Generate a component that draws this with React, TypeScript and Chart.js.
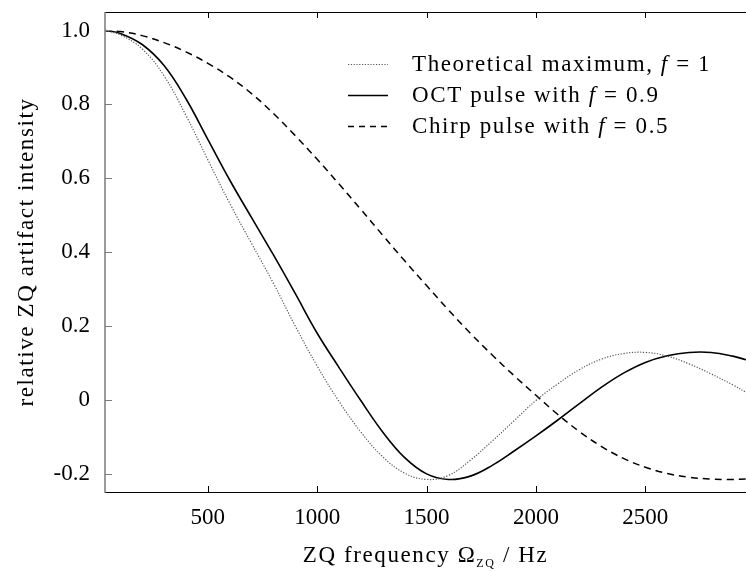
import React, { useEffect, useRef } from "react";
import { Chart, registerables } from "chart.js";

Chart.register(...registerables);

const FREQ = [30, 100, 200, 300, 400, 500, 600, 700, 800, 900, 1000, 1100, 1200, 1300, 1400, 1500, 1600, 1700, 1800, 1900, 2000, 2100, 2200, 2300, 2400, 2500, 2600, 2700, 2800, 2900, 2960];
const THEORETICAL = [1.0, 0.988, 0.95, 0.877, 0.77, 0.65, 0.532, 0.423, 0.315, 0.199, 0.091, -0.005, -0.088, -0.155, -0.199, -0.216, -0.205, -0.164, -0.112, -0.057, -0.002, 0.043, 0.082, 0.11, 0.125, 0.128, 0.118, 0.097, 0.07, 0.04, 0.02];
const OCT = [1.0, 0.992, 0.962, 0.905, 0.815, 0.705, 0.595, 0.493, 0.392, 0.287, 0.18, 0.087, -0.003, -0.088, -0.157, -0.201, -0.216, -0.207, -0.178, -0.139, -0.098, -0.055, -0.01, 0.034, 0.072, 0.101, 0.119, 0.128, 0.128, 0.118, 0.108];
const CHIRP = [1.0, 0.997, 0.986, 0.967, 0.942, 0.911, 0.874, 0.829, 0.775, 0.715, 0.651, 0.584, 0.515, 0.445, 0.376, 0.309, 0.243, 0.18, 0.121, 0.065, 0.012, -0.04, -0.087, -0.127, -0.159, -0.183, -0.2, -0.21, -0.215, -0.216, -0.215];

const X_TICKS = [500, 1000, 1500, 2000, 2500];
const Y_TICKS = [-0.2, 0, 0.2, 0.4, 0.6, 0.8, 1.0];
const Y_TICK_LABELS = ["-0.2", "0", "0.2", "0.4", "0.6", "0.8", "1.0"];

const LEGEND = [
  { pre: "Theoretical maximum, ", post: " = 1" },
  { pre: "OCT pulse with ", post: " = 0.9" },
  { pre: "Chirp pulse with ", post: " = 0.5" },
];

const FONT_FAMILY = "'Liberation Serif', 'DejaVu Serif', serif";
const TICK_SIZE = 23;
const TEXT_SIZE = 23;
const SPACING = "1.6px";

const decorPlugin = {
  id: "decor",
  afterDraw(chart: any) {
    const ctx = chart.ctx;
    const { left, right, top, bottom } = chart.chartArea;
    const xs = chart.scales.x;
    const ys = chart.scales.y;
    ctx.save();
    ctx.strokeStyle = "#000";
    ctx.lineWidth = 1.2;
    ctx.beginPath();
    ctx.moveTo(left, top + 0.5);
    ctx.lineTo(right, top + 0.5);
    ctx.moveTo(left, bottom + 0.5);
    ctx.lineTo(right, bottom + 0.5);
    ctx.stroke();
    ctx.lineWidth = 1;
    ctx.beginPath();
    X_TICKS.forEach((v) => {
      const px = Math.round(xs.getPixelForValue(v)) + 0.5;
      ctx.moveTo(px, bottom);
      ctx.lineTo(px, bottom - 6);
      ctx.moveTo(px, top);
      ctx.lineTo(px, top + 6);
    });
    ctx.stroke();
    ctx.strokeStyle = "#7a7a7a";
    ctx.lineWidth = 1.5;
    ctx.beginPath();
    ctx.moveTo(left, top);
    ctx.lineTo(left, bottom + 1);
    ctx.stroke();
    ctx.lineWidth = 1.2;
    ctx.beginPath();
    Y_TICKS.forEach((v) => {
      const py = Math.round(ys.getPixelForValue(v)) + 0.5;
      ctx.moveTo(left, py);
      ctx.lineTo(left + 7, py);
    });
    ctx.stroke();

    const setFont = (f: string) => {
      ctx.font = f;
      try { (ctx as any).letterSpacing = SPACING; } catch (e) {}
    };

    // legend
    const ds = chart.data.datasets;
    const lx0 = 348, lx1 = 388, tx = 412;
    const ly = [64, 95, 126];
    ctx.textBaseline = "middle";
    ctx.textAlign = "left";
    LEGEND.forEach((item, i) => {
      const d = ds[i];
      const y = ly[i];
      ctx.save();
      ctx.strokeStyle = d.borderColor;
      ctx.lineWidth = d.borderWidth;
      ctx.setLineDash(d.legendDash || d.borderDash || []);
      ctx.beginPath();
      ctx.moveTo(lx0, y + 0.5);
      ctx.lineTo(lx1, y + 0.5);
      ctx.stroke();
      ctx.restore();
      ctx.fillStyle = "#000";
      let x = tx;
      setFont(`${TEXT_SIZE}px ${FONT_FAMILY}`);
      ctx.fillText(item.pre, x, y + 1);
      x += ctx.measureText(item.pre).width;
      setFont(`italic ${TEXT_SIZE}px ${FONT_FAMILY}`);
      ctx.fillText("f", x, y + 1);
      x += ctx.measureText("f").width;
      setFont(`${TEXT_SIZE}px ${FONT_FAMILY}`);
      ctx.fillText(item.post, x, y + 1);
    });

    // x title
    ctx.textBaseline = "alphabetic";
    const p1 = "ZQ frequency Ω";
    const sub = "ZQ";
    const p2 = " / Hz";
    setFont(`${TEXT_SIZE}px ${FONT_FAMILY}`);
    const w1 = ctx.measureText(p1).width;
    const w3 = ctx.measureText(p2).width;
    setFont(`12px ${FONT_FAMILY}`);
    const w2 = ctx.measureText(sub).width;
    const total = w1 + w2 + w3;
    let sx = (left + right) / 2 - total / 2;
    const base = 562;
    setFont(`${TEXT_SIZE}px ${FONT_FAMILY}`);
    ctx.fillText(p1, sx, base);
    sx += w1;
    setFont(`12px ${FONT_FAMILY}`);
    ctx.fillText(sub, sx, base + 5);
    sx += w2;
    setFont(`${TEXT_SIZE}px ${FONT_FAMILY}`);
    ctx.fillText(p2, sx, base);

    // y title
    ctx.save();
    ctx.translate(33, (top + bottom) / 2);
    ctx.rotate(-Math.PI / 2);
    ctx.textAlign = "left";
    ctx.textBaseline = "alphabetic";
    setFont(`${TEXT_SIZE}px ${FONT_FAMILY}`);
    const yt = "relative ZQ artifact intensity";
    const yw = ctx.measureText(yt).width;
    ctx.fillText(yt, -yw / 2, 0);
    ctx.restore();

    ctx.restore();
  },
};

export default function App() {
  const ref = useRef<HTMLCanvasElement | null>(null);
  useEffect(() => {
    if (!ref.current) return;
    const mk = (arr: number[]) => FREQ.map((x, i) => ({ x, y: arr[i] }));
    const chart = new Chart(ref.current, {
      type: "line",
      data: {
        datasets: [
          {
            label: "Theoretical maximum, f = 1",
            data: mk(THEORETICAL),
            borderColor: "#555",
            borderWidth: 1.2,
            borderDash: [1.2, 1.6],
            pointRadius: 0,
            tension: 0.4,
            fill: false,
          },
          {
            label: "OCT pulse with f = 0.9",
            data: mk(OCT),
            borderColor: "#000",
            borderWidth: 1.6,
            pointRadius: 0,
            tension: 0.4,
            fill: false,
          },
          {
            label: "Chirp pulse with f = 0.5",
            data: mk(CHIRP),
            borderColor: "#000",
            borderWidth: 1.5,
            borderDash: [7, 5],
            legendDash: [6, 5],
            pointRadius: 0,
            tension: 0.4,
            fill: false,
          } as any,
        ],
      },
      options: {
        animation: false,
        responsive: true,
        maintainAspectRatio: false,
        layout: { padding: { top: 12, right: 0, left: 0, bottom: 0 } },
        plugins: { legend: { display: false }, tooltip: { enabled: false } },
        scales: {
          x: {
            type: "linear",
            min: 30,
            max: 2960,
            grid: { display: false, drawTicks: false },
            border: { display: false },
            afterBuildTicks: (s: any) => {
              s.ticks = X_TICKS.map((v) => ({ value: v }));
            },
            afterFit: (s: any) => {
              s.height = 80;
              s.paddingLeft = 0;
              s.paddingRight = 0;
            },
            ticks: {
              color: "#000",
              padding: 12,
              maxRotation: 0,
              font: { family: FONT_FAMILY, size: TICK_SIZE },
              callback: (v: any) => String(v),
            },
          },
          y: {
            type: "linear",
            min: -0.25,
            max: 1.05,
            grid: { display: false, drawTicks: false },
            border: { display: false },
            afterBuildTicks: (s: any) => {
              s.ticks = Y_TICKS.map((v) => ({ value: v }));
            },
            afterFit: (s: any) => {
              s.width = 105;
              s.paddingTop = 0;
              s.paddingBottom = 0;
            },
            ticks: {
              color: "#000",
              padding: 15,
              font: { family: FONT_FAMILY, size: TICK_SIZE },
              callback: (v: any) => {
                const i = Y_TICKS.findIndex((t) => Math.abs(t - v) < 1e-6);
                return i >= 0 ? Y_TICK_LABELS[i] : "";
              },
            },
          },
        },
      },
      plugins: [decorPlugin],
    });
    return () => chart.destroy();
  }, []);
  return (
    <div style={{ position: "absolute", left: 0, top: 0, width: 746, height: 572, background: "#fff" }}>
      <canvas ref={ref} />
    </div>
  );
}
